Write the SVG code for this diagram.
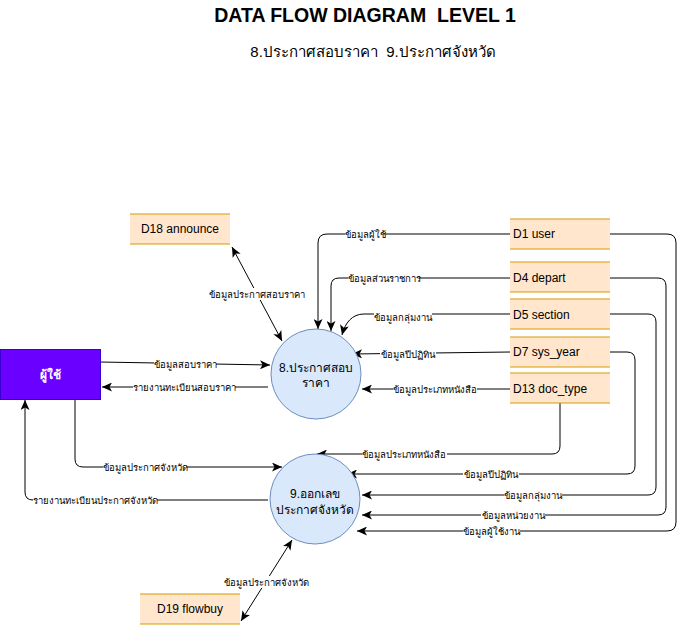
<svg xmlns="http://www.w3.org/2000/svg" width="684" height="634" viewBox="0 0 684 634">
<style>
text{font-family:"Liberation Sans","Noto Sans",sans-serif;fill:#000}
.title{font-size:19.5px;font-weight:bold;white-space:pre}
.sub{font-size:15px;white-space:pre}
.store{fill:#ffe6cc;stroke:none}
.sline{stroke:#d79b00;stroke-width:1.2}
.st{font-size:12px}
.proc{fill:#dae8fc;stroke:#6c8ebf;stroke-width:1}
.pt{font-size:12px;text-anchor:middle}
.ext{fill:#6a00ff;stroke:#3700cc}
.et{font-size:12px;font-weight:bold;fill:#ffffff;text-anchor:middle}
.c{fill:none;stroke:#000;stroke-width:1;marker-end:url(#ar)}
.bi{marker-start:url(#ar)}
.lb{fill:#fff}
.lt{font-size:9.5px;text-anchor:middle;dominant-baseline:central}
</style>
<defs>
<marker id="ar" markerUnits="userSpaceOnUse" markerWidth="11" markerHeight="9" refX="10" refY="4.5" orient="auto-start-reverse">
<path d="M0,0 L10,4.5 L0,9 L2.5,4.5 z" fill="#000"/>
</marker>
</defs>
<rect width="684" height="634" fill="#fff"/>
<text class="title" x="365" y="22" text-anchor="middle" xml:space="preserve">DATA FLOW DIAGRAM  LEVEL 1</text>
<text class="sub" x="373" y="57" text-anchor="middle" xml:space="preserve">8.ประกาศสอบราคา  9.ประกาศจังหวัด</text>

<g id="connectors">
<path class="c" d="M100,362 L270,365"/>
<path class="c" d="M268,387 H102"/>
<path class="c bi" d="M282,341 L232,247"/>
<path class="c" d="M510,234 H327 Q318,234 318,243 V329"/>
<path class="c" d="M510,278 H339 Q331,278 331,286 V331"/>
<path class="c" d="M510,314 H364 C352,314 345,323 342,335"/>
<path class="c" d="M510,352 L352,354"/>
<path class="c" d="M510,389 H362"/>
<path class="c" d="M560,403 V446 Q560,454 552,454 H317"/>
<path class="c" d="M610,352 H627 Q635,352 635,360 V466 Q635,474 627,474 H347"/>
<path class="c" d="M610,314 H648 Q656,314 656,322 V487 Q656,495 648,495 H362"/>
<path class="c" d="M610,278 H658 Q666,278 666,286 V507 Q666,515 658,515 H362"/>
<path class="c" d="M610,234 H667 Q676,234 676,243 V522 Q676,531 667,531 H357"/>
<path class="c" d="M75,399 V459 Q75,467 83,467 H282"/>
<path class="c" d="M268,500 H33 Q25,500 25,492 V400"/>
<path class="c bi" d="M292,540 L241,621"/>
<g id="labels">
<rect class="lb" x="154" y="358" width="62" height="12"/><text class="lt" x="185" y="364">ข้อมูลสอบราคา</text>
<rect class="lb" x="133" y="381" width="102" height="12"/><text class="lt" x="184" y="387">รายงานทะเบียนสอบราคา</text>
<rect class="lb" x="209" y="288" width="96" height="12"/><text class="lt" x="257" y="294">ข้อมูลประกาศสอบราคา</text>
<rect class="lb" x="345" y="228" width="40" height="12"/><text class="lt" x="365" y="234">ข้อมูลผู้ใช้</text>
<rect class="lb" x="348" y="272" width="71" height="12"/><text class="lt" x="384" y="278">ข้อมูลส่วนราชการ</text>
<rect class="lb" x="374" y="311" width="58" height="12"/><text class="lt" x="403" y="317">ข้อมูลกลุ่มงาน</text>
<rect class="lb" x="380" y="348" width="56" height="12"/><text class="lt" x="408" y="354">ข้อมูลปีปฏิทิน</text>
<rect class="lb" x="393" y="383" width="84" height="12"/><text class="lt" x="435" y="389">ข้อมูลประเภทหนังสือ</text>
<rect class="lb" x="362" y="448" width="85" height="12"/><text class="lt" x="404" y="454">ข้อมูลประเภทหนังสือ</text>
<rect class="lb" x="463" y="468" width="56" height="12"/><text class="lt" x="491" y="474">ข้อมูลปีปฏิทิน</text>
<rect class="lb" x="504" y="489" width="58" height="12"/><text class="lt" x="533" y="495">ข้อมูลกลุ่มงาน</text>
<rect class="lb" x="481" y="509" width="64" height="12"/><text class="lt" x="513" y="515">ข้อมูลหน่วยงาน</text>
<rect class="lb" x="463" y="525" width="57" height="12"/><text class="lt" x="491" y="531">ข้อมูลผู้ใช้งาน</text>
<rect class="lb" x="103" y="461" width="83" height="12"/><text class="lt" x="145" y="467">ข้อมูลประกาศจังหวัด</text>
<rect class="lb" x="33" y="494" width="124" height="12"/><text class="lt" x="95" y="500">รายงานทะเบียนประกาศจังหวัด</text>
<rect class="lb" x="224" y="576" width="84" height="12"/><text class="lt" x="266" y="582">ข้อมูลประกาศจังหวัด</text>
</g>
</g>

<g id="user">
<rect class="ext" x="0.5" y="349.5" width="100" height="50"/>
<text class="et" x="50" y="379">ผู้ใช้</text>
</g>
<g id="p8">
<circle class="proc" cx="316" cy="374" r="45"/>
<text class="pt" x="316" y="372">8.ประกาศสอบ</text>
<text class="pt" x="316" y="387">ราคา</text>
</g>
<g id="p9">
<circle class="proc" cx="315" cy="499" r="45"/>
<text class="pt" x="315" y="498">9.ออกเลข</text>
<text class="pt" x="315" y="514">ประกาศจังหวัด</text>
</g>
<g id="d18">
<rect class="store" x="130" y="214" width="100" height="30"/>
<path class="sline" d="M130,214 H230 M130,244 H230"/>
<text class="st" x="180" y="233" text-anchor="middle">D18 announce</text>
</g>
<g id="d1">
<rect class="store" x="510" y="219" width="100" height="30"/>
<path class="sline" d="M510,219 H610 M510,249 H610"/>
<text class="st" x="513" y="238">D1 user</text>
</g>
<g id="d4">
<rect class="store" x="510" y="262" width="100" height="30"/>
<path class="sline" d="M510,262 H610 M510,292 H610"/>
<text class="st" x="513" y="282">D4 depart</text>
</g>
<g id="d5">
<rect class="store" x="510" y="299" width="100" height="30"/>
<path class="sline" d="M510,299 H610 M510,329 H610"/>
<text class="st" x="513" y="319">D5 section</text>
</g>
<g id="d7">
<rect class="store" x="510" y="337" width="100" height="30"/>
<path class="sline" d="M510,337 H610 M510,367 H610"/>
<text class="st" x="513" y="356">D7 sys_year</text>
</g>
<g id="d13">
<rect class="store" x="510" y="373" width="100" height="30"/>
<path class="sline" d="M510,373 H610 M510,403 H610"/>
<text class="st" x="513" y="393">D13 doc_type</text>
</g>
<g id="d19">
<rect class="store" x="140" y="594" width="100" height="30"/>
<path class="sline" d="M140,594 H240 M140,624 H240"/>
<text class="st" x="190" y="613" text-anchor="middle">D19 flowbuy</text>
</g>
</svg>
